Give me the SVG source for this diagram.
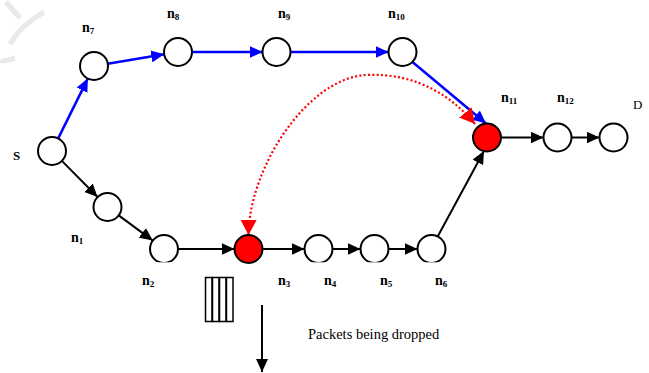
<svg xmlns="http://www.w3.org/2000/svg" width="649" height="373" viewBox="0 0 649 373">
<style>
.nd{fill:#fff;stroke:#000;stroke-width:2}
.red{fill:#f00;stroke:#000;stroke-width:2}
.bl{stroke:#00f;stroke-width:2.5;fill:none}
.bk{stroke:#000;stroke-width:2;fill:none}
.lb{font-family:"Liberation Serif","Times New Roman",serif;font-weight:bold;font-size:14px;fill:#000}
.sb{font-size:9px}
.tx{font-family:"Liberation Serif","Times New Roman",serif;font-size:13px;fill:#000}
.buf{fill:#fff;stroke:#000;stroke-width:1.5}
</style>
<defs>
<marker id="ab" markerUnits="userSpaceOnUse" markerWidth="14" markerHeight="12" refX="13" refY="6" orient="auto"><path d="M0,0 L13,6 L0,12 Z" fill="#00f"/></marker>
<marker id="ak" markerUnits="userSpaceOnUse" markerWidth="14" markerHeight="12" refX="13" refY="6" orient="auto"><path d="M0,0 L13,6 L0,12 Z" fill="#000"/></marker>
<marker id="ar" markerUnits="userSpaceOnUse" markerWidth="16" markerHeight="16" refX="15" refY="8" orient="auto-start-reverse"><path d="M0,0 L15,8 L0,16 Z" fill="#f00"/></marker>
</defs>
<g id="watermark" fill="none" stroke="#e4e4e4" stroke-width="5" opacity="0.8">
<path d="M6,2 L20,18"/>
<path d="M44,12 C30,20 18,30 10,44"/>
<path d="M15,58 C8,60 2,62 0,60"/>
</g>
<g id="connectors">
<line class="bl" x1="58.2" y1="138.4" x2="87.8" y2="78.6" marker-end="url(#ab)"/>
<line class="bl" x1="107.8" y1="63.7" x2="164.2" y2="54.3" marker-end="url(#ab)"/>
<line class="bl" x1="192" y1="52" x2="262.5" y2="52" marker-end="url(#ab)"/>
<line class="bl" x1="290.5" y1="52" x2="388.5" y2="52" marker-end="url(#ab)"/>
<line class="bl" x1="412.5" y1="62" x2="486" y2="123.5" marker-end="url(#ab)"/>
<line class="bk" x1="61.9" y1="160.9" x2="97.6" y2="197" marker-end="url(#ak)"/>
<line class="bk" x1="118.7" y1="215.4" x2="152.8" y2="240.6" marker-end="url(#ak)"/>
<line class="bk" x1="178" y1="249" x2="234.5" y2="249" marker-end="url(#ak)"/>
<line class="bk" x1="262.5" y1="249" x2="304.5" y2="249" marker-end="url(#ak)"/>
<line class="bk" x1="332.5" y1="249" x2="360.5" y2="249" marker-end="url(#ak)"/>
<line class="bk" x1="388.5" y1="249" x2="417.5" y2="249" marker-end="url(#ak)"/>
<line class="bk" x1="437.7" y1="236.5" x2="484" y2="151" marker-end="url(#ak)"/>
<line class="bk" x1="501" y1="137.5" x2="543.5" y2="137.5" marker-end="url(#ak)"/>
<line class="bk" x1="571.5" y1="137.5" x2="599.5" y2="137.5" marker-end="url(#ak)"/>
<path d="M248.5,235 C249,170 305,80 365,75 C420,72 455,100 475,124" fill="none" stroke="#f00" stroke-width="2.2" stroke-dasharray="2 2.3" marker-start="url(#ar)" marker-end="url(#ar)"/>
<line class="bk" x1="262" y1="305" x2="262" y2="372" marker-end="url(#ak)"/>
</g>
<g id="S"><circle class="nd" cx="52" cy="151" r="14"/><text class="lb" x="13" y="160" style="font-size:13px">S</text></g>
<g id="n1"><circle class="nd" cx="107.5" cy="207" r="14"/><text class="lb" x="71" y="242">n<tspan class="sb" dy="2">1</tspan></text></g>
<g id="n2"><circle class="nd" cx="164" cy="249" r="14"/><text class="lb" x="142" y="285">n<tspan class="sb" dy="2">2</tspan></text></g>
<g id="n4"><circle class="nd" cx="318.5" cy="249" r="14"/><text class="lb" x="324" y="285">n<tspan class="sb" dy="2">4</tspan></text></g>
<g id="n5"><circle class="nd" cx="374.5" cy="249" r="14"/><text class="lb" x="380" y="285">n<tspan class="sb" dy="2">5</tspan></text></g>
<g id="n6"><circle class="nd" cx="431.5" cy="249" r="14"/><text class="lb" x="435" y="285">n<tspan class="sb" dy="2">6</tspan></text></g>
<rect x="140" y="262.3" width="320" height="4" fill="#fff"/>
<g id="n3"><circle class="red" cx="248.5" cy="249" r="14"/><text class="lb" x="278" y="285">n<tspan class="sb" dy="2">3</tspan></text></g>
<g id="n7"><circle class="nd" cx="94" cy="66" r="14"/><text class="lb" x="82" y="32">n<tspan class="sb" dy="2">7</tspan></text></g>
<g id="n8"><circle class="nd" cx="178" cy="52" r="14"/><text class="lb" x="167" y="18">n<tspan class="sb" dy="2">8</tspan></text></g>
<g id="n9"><circle class="nd" cx="276.5" cy="52" r="14"/><text class="lb" x="278" y="18">n<tspan class="sb" dy="2">9</tspan></text></g>
<g id="n10"><circle class="nd" cx="402.5" cy="52" r="14"/><text class="lb" x="388" y="18">n<tspan class="sb" dy="2">10</tspan></text></g>
<g id="n11"><circle class="red" cx="487" cy="137.5" r="14"/><text class="lb" x="501" y="102">n<tspan class="sb" dy="2">11</tspan></text></g>
<g id="n12"><circle class="nd" cx="557.5" cy="137.5" r="14"/><text class="lb" x="557" y="102">n<tspan class="sb" dy="2">12</tspan></text></g>
<g id="D"><circle class="nd" cx="613.5" cy="137.5" r="14"/><text class="tx" x="633" y="109">D</text></g>
<g id="buffer">
<rect class="buf" x="205.5" y="277.5" width="6.5" height="44"/>
<rect class="buf" x="212.5" y="277.5" width="6.5" height="44"/>
<rect class="buf" x="219.5" y="277.5" width="6.5" height="44"/>
<rect class="buf" x="226.5" y="277.5" width="6.5" height="44"/>
</g>
<text class="tx" x="308" y="339" style="font-size:14.5px">Packets being dropped</text>
</svg>
